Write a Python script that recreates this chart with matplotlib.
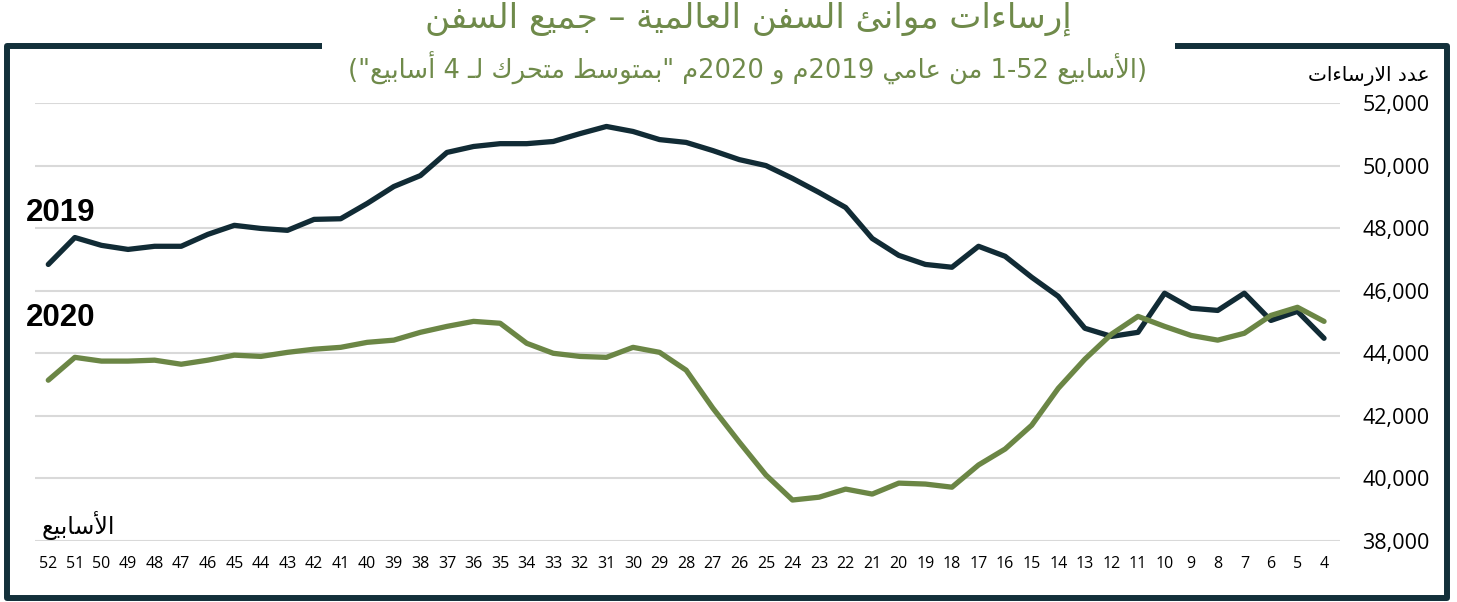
import re
import matplotlib
matplotlib.use("Agg")
import matplotlib.pyplot as plt
from matplotlib.lines import Line2D

# --- data (weeks run right-to-left in the original) ---
weeks = list(range(52, 3, -1))
ships_2019 = [46840, 47700, 47450, 47320, 47420, 47420, 47800, 48090, 47990, 47930,
              48280, 48300, 48790, 49330, 49680, 50420, 50610, 50700, 50700, 50770,
              51020, 51250, 51090, 50830, 50740, 50480, 50190, 50000, 49590, 49140,
              48660, 47670, 47130, 46840, 46750, 47420, 47100, 46430, 45820, 44800,
              44540, 44670, 45920, 45440, 45370, 45920, 45050, 45340, 44480]
ships_2020 = [43140, 43870, 43750, 43750, 43780, 43650, 43780, 43940, 43900, 44030,
              44130, 44190, 44350, 44420, 44670, 44860, 45020, 44960, 44320, 44000,
              43900, 43870, 44190, 44030, 43460, 42250, 41160, 40110, 39310, 39400,
              39660, 39500, 39850, 39820, 39720, 40430, 40940, 41700, 42880, 43810,
              44610, 45180, 44860, 44570, 44420, 44640, 45210, 45470, 45020]
yticks = [38000, 40000, 42000, 44000, 46000, 48000, 50000, 52000]

title = "إرساءات موانئ السفن العالمية – جميع السفن"
subtitle = '(الأسابيع 1-52 من عامي 2019م و 2020م "بمتوسط متحرك لـ 4 أسابيع")'
ylabel = "عدد الارساءات"
xlabel = "الأسابيع"

DARK = "#112b35"
GREEN = "#6b8645"
TITLE_C = "#6f8a4a"

# --- tiny arabic shaper (matplotlib has no text shaping) ---
FORMS = {
    'ء': ('\ufe80',), 'آ': ('\ufe81', '\ufe82'), 'أ': ('\ufe83', '\ufe84'),
    'ؤ': ('\ufe85', '\ufe86'), 'إ': ('\ufe87', '\ufe88'),
    'ئ': ('\ufe89', '\ufe8a', '\ufe8b', '\ufe8c'), 'ا': ('\ufe8d', '\ufe8e'),
    'ب': ('\ufe8f', '\ufe90', '\ufe91', '\ufe92'), 'ة': ('\ufe93', '\ufe94'),
    'ت': ('\ufe95', '\ufe96', '\ufe97', '\ufe98'), 'ج': ('\ufe9d', '\ufe9e', '\ufe9f', '\ufea0'),
    'ح': ('\ufea1', '\ufea2', '\ufea3', '\ufea4'), 'د': ('\ufea9', '\ufeaa'),
    'ر': ('\ufead', '\ufeae'), 'س': ('\ufeb1', '\ufeb2', '\ufeb3', '\ufeb4'),
    'ط': ('\ufec1', '\ufec2', '\ufec3', '\ufec4'), 'ع': ('\ufec9', '\ufeca', '\ufecb', '\ufecc'),
    'ف': ('\ufed1', '\ufed2', '\ufed3', '\ufed4'), 'ك': ('\ufed9', '\ufeda', '\ufedb', '\ufedc'),
    'ل': ('\ufedd', '\ufede', '\ufedf', '\ufee0'), 'م': ('\ufee1', '\ufee2', '\ufee3', '\ufee4'),
    'ن': ('\ufee5', '\ufee6', '\ufee7', '\ufee8'), 'و': ('\ufeed', '\ufeee'),
    'ي': ('\ufef1', '\ufef2', '\ufef3', '\ufef4'), 'ـ': ('\u0640',) * 4,
}
LAM_ALEF = {'ا': ('\ufefb', '\ufefc'), 'أ': ('\ufef7', '\ufef8'), 'إ': ('\ufef9', '\ufefa')}


def shape(s):
    chars = []
    i = 0
    while i < len(s):
        if s[i] == 'ل' and i + 1 < len(s) and s[i + 1] in LAM_ALEF:
            chars.append(('LA', s[i + 1]))
            i += 2
        else:
            chars.append(s[i])
            i += 1
    out = []
    for k, c in enumerate(chars):
        prev = chars[k - 1] if k > 0 else None
        nxt = chars[k + 1] if k + 1 < len(chars) else None
        prev_dual = prev is not None and not isinstance(prev, tuple) and len(FORMS.get(prev, ())) == 4
        if isinstance(c, tuple):
            out.append(LAM_ALEF[c[1]][1 if prev_dual else 0])
            continue
        f = FORMS.get(c)
        if f is None or len(f) == 1:
            out.append(f[0] if f else c)
            continue
        nxt_joins = nxt is not None and (isinstance(nxt, tuple) or len(FORMS.get(nxt, ())) >= 2)
        jn = len(f) == 4 and nxt_joins
        out.append(f[3] if (prev_dual and jn) else f[1] if prev_dual else f[2] if jn else f[0])
    return "".join(out)


def ar(s):
    s = shape(s)
    tokens = re.findall(r"\d+(?:[-,.]\d+)*|.", s)
    mirror = {"(": ")", ")": "("}
    return "".join(mirror.get(t, t) for t in reversed(tokens))


# --- figure ---
fig = plt.figure(figsize=(14.57, 6.02), dpi=100)
ax = fig.add_axes([35 / 1457, (602 - 541) / 602, 1305 / 1457, 438 / 602])

x = list(range(len(weeks)))
ax.plot(x, ships_2019, color=DARK, lw=3.8, solid_capstyle="round", solid_joinstyle="round", zorder=3)
ax.plot(x, ships_2020, color=GREEN, lw=3.8, solid_capstyle="round", solid_joinstyle="round", zorder=3)

ax.set_xlim(-0.5, 48.6)
ax.set_ylim(38000, 52000)
ax.set_xticks(x)
ax.set_xticklabels([str(w) for w in weeks], fontsize=11.5, family="Open Sans")
ax.set_yticks(yticks)
ax.set_yticklabels([f"{v:,}" for v in yticks], fontsize=15.5, family="Open Sans")
ax.yaxis.tick_right()
ax.tick_params(axis="y", length=0, pad=16)
ax.tick_params(axis="x", length=0, pad=11)
ax.grid(axis="y", color="#d9d9d9", lw=1.5)
ax.set_axisbelow(True)
for sp in ax.spines.values():
    sp.set_visible(False)

# series labels
fig.text(26 / 1457, 1 - 213 / 602, "2019", fontsize=22.5, fontweight="bold",
         family="Liberation Sans", va="center", ha="left")
fig.text(26 / 1457, 1 - 318 / 602, "2020", fontsize=22.5, fontweight="bold",
         family="Liberation Sans", va="center", ha="left")

# arabic texts
fig.text(748 / 1457, 1 - 19 / 602, ar(title), fontsize=24.5, color=TITLE_C,
         family="DejaVu Sans", ha="center", va="center")
fig.text(748 / 1457, 1 - 68 / 602, ar(subtitle), fontsize=18.5, color=TITLE_C,
         family="DejaVu Sans", ha="center", va="center")
fig.text(1430 / 1457, 1 - 76 / 602, ar(ylabel), fontsize=14.5, color="black",
         family="DejaVu Sans", ha="right", va="center")
fig.text(42 / 1457, 1 - 526 / 602, ar(xlabel), fontsize=17, color="black",
         family="DejaVu Sans", ha="left", va="center")

# frame with a gap for the title
W, H = 1457, 602
def fl(xs, ys):
    fig.add_artist(Line2D([v / W for v in xs], [1 - v / H for v in ys],
                          color="#13303a", lw=4.3, solid_capstyle="butt"))

fl([322, 6.5, 6.5, 1446.5, 1446.5, 1175], [46, 46, 597.5, 597.5, 46, 46])

fig.savefig("out.png", dpi=100)
